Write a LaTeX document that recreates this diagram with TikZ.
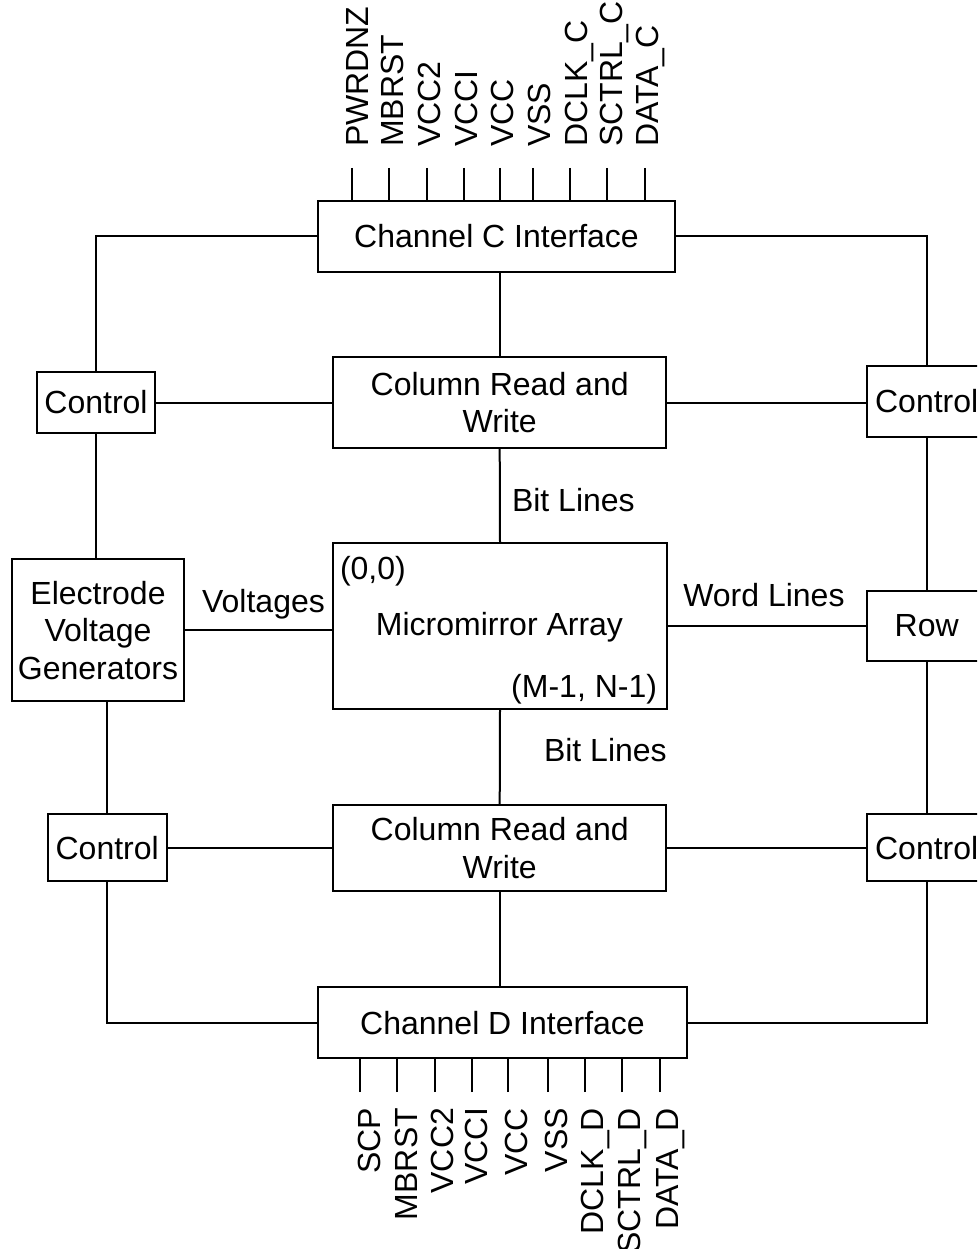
\documentclass[tikz,border=0pt]{standalone}
\usepackage{fontspec}
\setmainfont{Liberation Sans}
\begin{document}
\begin{tikzpicture}[x=1pt,y=-1pt,
  every node/.style={font=\fontsize{32}{37.5}\selectfont, inner sep=0pt, outer sep=0pt},
  box/.style={draw, line width=2pt, align=center, fill=white},
  wire/.style={line width=2pt},
  lbl/.style={},
  pinlbl/.style={rotate=90}]
\clip (0,0) rectangle (977,1249);
\fill[white] (0,0) rectangle (977,1249);

% boxes
\node[box, minimum width=357pt, minimum height=71pt] (chC) at (496.5,236.2) {Channel C Interface};
\node[box, minimum width=333pt, minimum height=91.6pt] (colT) at (499.7,402.5) {Column Read and\\Write};
\node[box, minimum width=118.6pt, minimum height=61.6pt] (ctlTL) at (96,402.5) {Control};
\node[box, minimum width=118.6pt, minimum height=71pt] (ctlTR) at (926.7,401.3) {Control};
\node[box, minimum width=172.6pt, minimum height=141.7pt] (evg) at (98,630.2) {Electrode\\Voltage\\Generators};
\node[box, minimum width=333.4pt, minimum height=166pt] (mm) at (500,626.3) {};
\node[box, minimum width=120pt, minimum height=70pt] (row) at (926.7,625.8) {Row};
\node[box, minimum width=333pt, minimum height=86pt] (colB) at (499.7,848) {Column Read and\\Write};
\node[box, minimum width=119pt, minimum height=66.7pt] (ctlBL) at (107.2,847.7) {Control};
\node[box, minimum width=118.6pt, minimum height=66.7pt] (ctlBR) at (926.7,847.7) {Control};
\node[box, minimum width=368.4pt, minimum height=71pt] (chD) at (502.5,1022.8) {Channel D Interface};

% texts inside the array
\node[anchor=base] (mmtxt) at (499.5,635) {Micromirror Array};
\node[anchor=base west] (orig) at (340,579) {(0,0)};
\node[anchor=base east] (last) at (657,697) {(M-1, N-1)};

% connector labels
\node[anchor=base west] (bitT) at (512,511.7) {Bit Lines};
\node[anchor=base west] (bitB) at (544,761.7) {Bit Lines};
\node[anchor=base] (volt) at (263.5,612) {Voltages};
\node[anchor=base west] (word) at (683.3,606.7) {Word Lines};

% connectors
\draw[wire] (chC.west) -| (ctlTL.north);
\draw[wire] (chC.east) -| (ctlTR.north);
\draw[wire] (colT.north) -- (colT.north |- chC.south);
\draw[wire] (ctlTL.east) -- (colT.west);
\draw[wire] (colT.east) -- (colT.east -| ctlTR.west);
\draw[wire] (ctlTL.south) -- (ctlTL.south |- evg.north);
\draw[wire] (ctlBL.north) -- (ctlBL.north |- evg.south);
\draw[wire] (chD.west) -| (ctlBL.south);
\draw[wire] (ctlBL.east) -- (ctlBL.east -| colB.west);
\draw[wire] (colB.east) -- (colB.east -| ctlBR.west);
\draw[wire] (colB.south) -- (colB.south |- chD.north);
\draw[wire] (chD.east) -| (ctlBR.south);
\draw[wire] (ctlTR.south) -- (row.north);
\draw[wire] (row.south) -- (ctlBR.north);
\draw[wire] (colT.south) -- (mm.north);
\draw[wire] (mm.south) -- (colB.north);
\draw[wire] (evg.east) -- (evg.east -| mm.west);
\draw[wire] (mm.east) -- (mm.east -| row.west);

% top pins
\foreach \px/\bx/\t [count=\i] in {352/368/PWRDNZ, 389/403/MBRST, 427/440/VCC2, 464/477/VCCI, 500/513/VCC, 533/550/VSS, 570/587/DCLK\_C, 607/622/SCTRL\_C, 645/658/DATA\_C}{
  \coordinate (tp\i) at (\px,168);
  \draw[wire] (tp\i) -- (tp\i |- chC.north);
  \node[pinlbl, anchor=base west] (tl\i) at (\bx,147) {\t};
}
% bottom pins
\foreach \px/\bx/\t [count=\i] in {360/380/SCP, 397/417/MBRST, 435/453/VCC2, 472/487/VCCI, 508/527/VCC, 548/567/VSS, 585/603/DCLK\_D, 622/640/SCTRL\_D, 660/678/DATA\_D}{
  \coordinate (bp\i) at (\px,1092);
  \draw[wire] (bp\i) -- (bp\i |- chD.south);
  \node[pinlbl, anchor=base east] (bl\i) at (\bx,1108) {\t};
}
\end{tikzpicture}
\end{document}
